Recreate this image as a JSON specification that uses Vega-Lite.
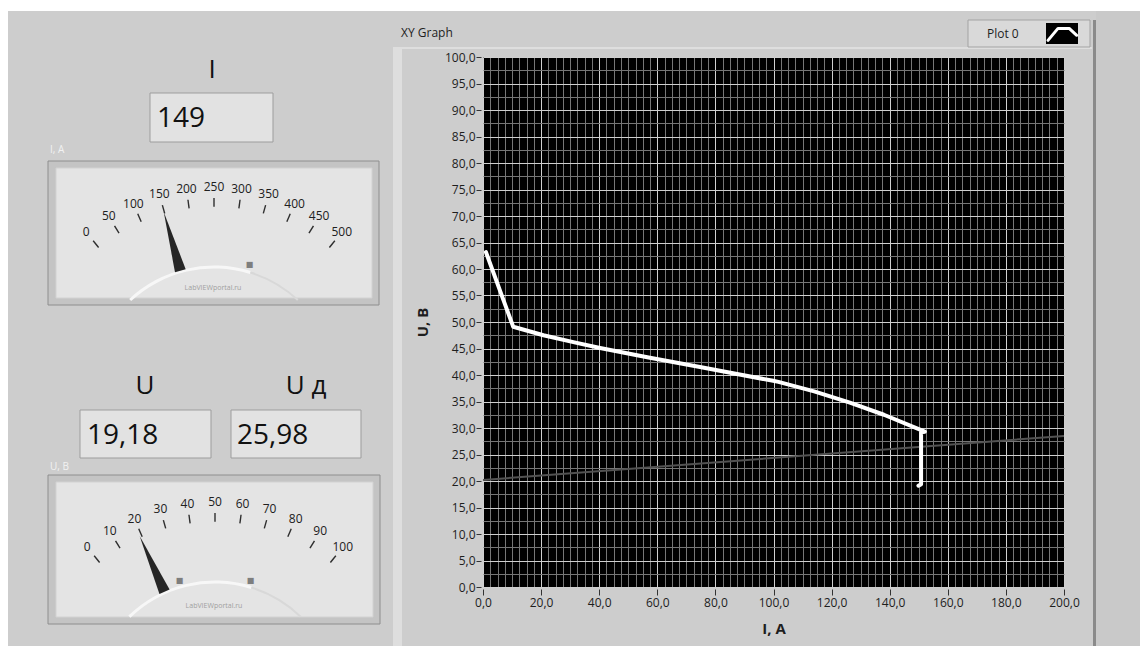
{
  "$schema": "https://vega.github.io/schema/vega-lite/v6.json",
  "padding": 0,
  "autosize": {"type": "pad"},
  "bounds": "flush",
  "spacing": 93,
  "background": "#ffffff",
  "config": {
    "view": {"stroke": null},
    "font": "Open Sans",
    "locale": {"number": {"decimal": ",", "thousands": " ", "grouping": [3], "currency": ["", ""]}}
  },
  "datasets": {
    "curve": [
      {"i": 0, "I": 1.0, "U": 63.2},
      {"i": 1, "I": 10.4, "U": 49.1},
      {"i": 2, "I": 20.8, "U": 47.5},
      {"i": 3, "I": 31.1, "U": 46.2},
      {"i": 4, "I": 40.3, "U": 45.1},
      {"i": 5, "I": 57.0, "U": 43.3},
      {"i": 6, "I": 74.7, "U": 41.5},
      {"i": 7, "I": 99.9, "U": 38.9},
      {"i": 8, "I": 101.7, "U": 38.7},
      {"i": 9, "I": 114.0, "U": 36.9},
      {"i": 10, "I": 126.3, "U": 34.8},
      {"i": 11, "I": 138.0, "U": 32.5},
      {"i": 12, "I": 152.1, "U": 29.3},
      {"i": 13, "I": 150.8, "U": 29.2},
      {"i": 14, "I": 150.8, "U": 19.4},
      {"i": 15, "I": 149.9, "U": 19.1}
    ],
    "load": [
      {"I": 0, "U": 20.2},
      {"I": 200, "U": 28.5}
    ],
    "readings": [
      {"q": "I", "value": 149},
      {"q": "U", "value": 19.18},
      {"q": "Ud", "value": 25.98}
    ],
    "ticksI": [{"v": 0}, {"v": 50}, {"v": 100}, {"v": 150}, {"v": 200}, {"v": 250}, {"v": 300}, {"v": 350}, {"v": 400}, {"v": 450}, {"v": 500}],
    "ticksU": [{"v": 0}, {"v": 10}, {"v": 20}, {"v": 30}, {"v": 40}, {"v": 50}, {"v": 60}, {"v": 70}, {"v": 80}, {"v": 90}, {"v": 100}],
    "markersI": [{"v": 352}],
    "markersU": [{"v": 29.5}, {"v": 70.5}]
  },
  "hconcat": [
    {
      "width": 390,
      "height": 530,
      "view": {"stroke": null},
      "data": {"values": [{}]},
      "resolve": {"scale": {"theta": "independent", "angle": "independent"}},
      "layer": [
        {"mark": {"type": "rect", "fill": "#ffffff"},
         "encoding": {"x": {"datum": 0, "type": "quantitative", "scale": {"domain": [0, 390], "nice": false, "zero": false}, "axis": null}, "x2": {"datum": 1140},
                      "y": {"datum": 0, "type": "quantitative", "scale": {"domain": [57, 587], "nice": false, "zero": false, "reverse": true}, "axis": null}, "y2": {"datum": 646}}},
        {"mark": {"type": "rect", "fill": "#cdcdcd"},
         "encoding": {"x": {"datum": 8, "type": "quantitative", "scale": {"domain": [0, 390], "nice": false, "zero": false}, "axis": null}, "x2": {"datum": 1140},
                      "y": {"datum": 11, "type": "quantitative", "scale": {"domain": [57, 587], "nice": false, "zero": false, "reverse": true}, "axis": null}, "y2": {"datum": 646}}},
        {"mark": {"type": "rect", "fill": "#c9c9c9"},
         "encoding": {"x": {"datum": 1096, "type": "quantitative", "scale": {"domain": [0, 390], "nice": false, "zero": false}, "axis": null}, "x2": {"datum": 1140},
                      "y": {"datum": 11, "type": "quantitative", "scale": {"domain": [57, 587], "nice": false, "zero": false, "reverse": true}, "axis": null}, "y2": {"datum": 646}}},
        {"mark": {"type": "rect", "fill": "#8a8a8a"},
         "encoding": {"x": {"datum": 1093, "type": "quantitative", "scale": {"domain": [0, 390], "nice": false, "zero": false}, "axis": null}, "x2": {"datum": 1096},
                      "y": {"datum": 20, "type": "quantitative", "scale": {"domain": [57, 587], "nice": false, "zero": false, "reverse": true}, "axis": null}, "y2": {"datum": 646}}},
        {"mark": {"type": "rect", "fill": "#dedede"},
         "encoding": {"x": {"datum": 393, "type": "quantitative", "scale": {"domain": [0, 390], "nice": false, "zero": false}, "axis": null}, "x2": {"datum": 402},
                      "y": {"datum": 47, "type": "quantitative", "scale": {"domain": [57, 587], "nice": false, "zero": false, "reverse": true}, "axis": null}, "y2": {"datum": 646}}},
        {"mark": {"type": "rect", "fill": "#dedede"},
         "encoding": {"x": {"datum": 393, "type": "quantitative", "scale": {"domain": [0, 390], "nice": false, "zero": false}, "axis": null}, "x2": {"datum": 1092},
                      "y": {"datum": 47, "type": "quantitative", "scale": {"domain": [57, 587], "nice": false, "zero": false, "reverse": true}, "axis": null}, "y2": {"datum": 49}}},
        {"mark": {"type": "rect", "fill": "#d9d9d9", "stroke": "#a3a3a3", "strokeWidth": 1},
         "encoding": {"x": {"datum": 968, "type": "quantitative", "scale": {"domain": [0, 390], "nice": false, "zero": false}, "axis": null}, "x2": {"datum": 1090},
                      "y": {"datum": 20, "type": "quantitative", "scale": {"domain": [57, 587], "nice": false, "zero": false, "reverse": true}, "axis": null}, "y2": {"datum": 47}}},
        {"mark": {"type": "rect", "fill": "#000000"},
         "encoding": {"x": {"datum": 1046, "type": "quantitative", "scale": {"domain": [0, 390], "nice": false, "zero": false}, "axis": null}, "x2": {"datum": 1078},
                      "y": {"datum": 23, "type": "quantitative", "scale": {"domain": [57, 587], "nice": false, "zero": false, "reverse": true}, "axis": null}, "y2": {"datum": 44}}},
        {"mark": {"type": "point", "shape": "M -0.875 0.4 L -0.25 -0.35 L 0.45 -0.35 L 0.92 0.08", "size": 1024, "filled": false, "stroke": "#ffffff", "strokeWidth": 3, "strokeCap": "round", "strokeJoin": "round", "opacity": 1},
         "encoding": {"x": {"datum": 1062, "type": "quantitative", "scale": {"domain": [0, 390], "nice": false, "zero": false}, "axis": null},
                      "y": {"datum": 34, "type": "quantitative", "scale": {"domain": [57, 587], "nice": false, "zero": false, "reverse": true}, "axis": null}}},
        {"mark": {"type": "text", "text": "Plot 0", "align": "left", "baseline": "middle", "fontSize": 12, "color": "#1e1e1e"},
         "encoding": {"x": {"datum": 987, "type": "quantitative", "scale": {"domain": [0, 390], "nice": false, "zero": false}, "axis": null},
                      "y": {"datum": 33.5, "type": "quantitative", "scale": {"domain": [57, 587], "nice": false, "zero": false, "reverse": true}, "axis": null}}},
        {"mark": {"type": "text", "text": "XY Graph", "align": "left", "baseline": "middle", "fontSize": 12, "color": "#1e1e1e"},
         "encoding": {"x": {"datum": 401, "type": "quantitative", "scale": {"domain": [0, 390], "nice": false, "zero": false}, "axis": null},
                      "y": {"datum": 33, "type": "quantitative", "scale": {"domain": [57, 587], "nice": false, "zero": false, "reverse": true}, "axis": null}}},

        {"mark": {"type": "rect", "fill": "#e2e2e2", "stroke": "#9d9d9d", "strokeWidth": 1},
         "encoding": {"x": {"datum": 150, "type": "quantitative", "scale": {"domain": [0, 390], "nice": false, "zero": false}, "axis": null}, "x2": {"datum": 273},
                      "y": {"datum": 93, "type": "quantitative", "scale": {"domain": [57, 587], "nice": false, "zero": false, "reverse": true}, "axis": null}, "y2": {"datum": 142}}},
        {"mark": {"type": "rect", "fill": "#e2e2e2", "stroke": "#9d9d9d", "strokeWidth": 1},
         "encoding": {"x": {"datum": 80, "type": "quantitative", "scale": {"domain": [0, 390], "nice": false, "zero": false}, "axis": null}, "x2": {"datum": 211},
                      "y": {"datum": 410, "type": "quantitative", "scale": {"domain": [57, 587], "nice": false, "zero": false, "reverse": true}, "axis": null}, "y2": {"datum": 458}}},
        {"mark": {"type": "rect", "fill": "#e2e2e2", "stroke": "#9d9d9d", "strokeWidth": 1},
         "encoding": {"x": {"datum": 231, "type": "quantitative", "scale": {"domain": [0, 390], "nice": false, "zero": false}, "axis": null}, "x2": {"datum": 361},
                      "y": {"datum": 410, "type": "quantitative", "scale": {"domain": [57, 587], "nice": false, "zero": false, "reverse": true}, "axis": null}, "y2": {"datum": 458}}},
        {"mark": {"type": "rect", "fill": "#c4c4c4", "stroke": "#8e8e8e", "strokeWidth": 1},
         "encoding": {"x": {"datum": 48, "type": "quantitative", "scale": {"domain": [0, 390], "nice": false, "zero": false}, "axis": null}, "x2": {"datum": 379},
                      "y": {"datum": 161, "type": "quantitative", "scale": {"domain": [57, 587], "nice": false, "zero": false, "reverse": true}, "axis": null}, "y2": {"datum": 305}}},
        {"mark": {"type": "rect", "fill": "#e4e4e4", "stroke": "#d2d2d2", "strokeWidth": 1},
         "encoding": {"x": {"datum": 56, "type": "quantitative", "scale": {"domain": [0, 390], "nice": false, "zero": false}, "axis": null}, "x2": {"datum": 372},
                      "y": {"datum": 168, "type": "quantitative", "scale": {"domain": [57, 587], "nice": false, "zero": false, "reverse": true}, "axis": null}, "y2": {"datum": 298}}},
        {"mark": {"type": "rect", "fill": "#c4c4c4", "stroke": "#8e8e8e", "strokeWidth": 1},
         "encoding": {"x": {"datum": 48, "type": "quantitative", "scale": {"domain": [0, 390], "nice": false, "zero": false}, "axis": null}, "x2": {"datum": 380},
                      "y": {"datum": 475, "type": "quantitative", "scale": {"domain": [57, 587], "nice": false, "zero": false, "reverse": true}, "axis": null}, "y2": {"datum": 624}}},
        {"mark": {"type": "rect", "fill": "#e4e4e4", "stroke": "#d2d2d2", "strokeWidth": 1},
         "encoding": {"x": {"datum": 56, "type": "quantitative", "scale": {"domain": [0, 390], "nice": false, "zero": false}, "axis": null}, "x2": {"datum": 373},
                      "y": {"datum": 482, "type": "quantitative", "scale": {"domain": [57, 587], "nice": false, "zero": false, "reverse": true}, "axis": null}, "y2": {"datum": 617}}},

        {"mark": {"type": "text", "text": "I", "fontSize": 26, "color": "#111111", "baseline": "middle"},
         "encoding": {"x": {"datum": 212, "type": "quantitative", "scale": {"domain": [0, 390], "nice": false, "zero": false}, "axis": null},
                      "y": {"datum": 70, "type": "quantitative", "scale": {"domain": [57, 587], "nice": false, "zero": false, "reverse": true}, "axis": null}}},
        {"mark": {"type": "text", "text": "U", "fontSize": 26, "color": "#111111", "baseline": "middle"},
         "encoding": {"x": {"datum": 145, "type": "quantitative", "scale": {"domain": [0, 390], "nice": false, "zero": false}, "axis": null},
                      "y": {"datum": 386, "type": "quantitative", "scale": {"domain": [57, 587], "nice": false, "zero": false, "reverse": true}, "axis": null}}},
        {"mark": {"type": "text", "text": "U д", "fontSize": 26, "color": "#111111", "baseline": "middle"},
         "encoding": {"x": {"datum": 306, "type": "quantitative", "scale": {"domain": [0, 390], "nice": false, "zero": false}, "axis": null},
                      "y": {"datum": 386, "type": "quantitative", "scale": {"domain": [57, 587], "nice": false, "zero": false, "reverse": true}, "axis": null}}},
        {"mark": {"type": "text", "text": "I, А", "fontSize": 10, "color": "#f2f2f2", "align": "left", "baseline": "middle"},
         "encoding": {"x": {"datum": 50, "type": "quantitative", "scale": {"domain": [0, 390], "nice": false, "zero": false}, "axis": null},
                      "y": {"datum": 150, "type": "quantitative", "scale": {"domain": [57, 587], "nice": false, "zero": false, "reverse": true}, "axis": null}}},
        {"mark": {"type": "text", "text": "U, В", "fontSize": 10, "color": "#f2f2f2", "align": "left", "baseline": "middle"},
         "encoding": {"x": {"datum": 50, "type": "quantitative", "scale": {"domain": [0, 390], "nice": false, "zero": false}, "axis": null},
                      "y": {"datum": 467, "type": "quantitative", "scale": {"domain": [57, 587], "nice": false, "zero": false, "reverse": true}, "axis": null}}},
        {"mark": {"type": "text", "text": "LabVIEWportal.ru", "fontSize": 7, "color": "#a0a0a0", "baseline": "middle"},
         "encoding": {"x": {"datum": 213, "type": "quantitative", "scale": {"domain": [0, 390], "nice": false, "zero": false}, "axis": null},
                      "y": {"datum": 288, "type": "quantitative", "scale": {"domain": [57, 587], "nice": false, "zero": false, "reverse": true}, "axis": null}}},
        {"mark": {"type": "text", "text": "LabVIEWportal.ru", "fontSize": 7, "color": "#a0a0a0", "baseline": "middle"},
         "encoding": {"x": {"datum": 214, "type": "quantitative", "scale": {"domain": [0, 390], "nice": false, "zero": false}, "axis": null},
                      "y": {"datum": 606, "type": "quantitative", "scale": {"domain": [57, 587], "nice": false, "zero": false, "reverse": true}, "axis": null}}},

        {"data": {"name": "readings"}, "transform": [{"filter": "datum.q === 'I'"}],
         "mark": {"type": "text", "fontSize": 28, "color": "#111111", "align": "left", "baseline": "middle"},
         "encoding": {"x": {"datum": 157, "type": "quantitative", "scale": {"domain": [0, 390], "nice": false, "zero": false}, "axis": null},
                      "y": {"datum": 119, "type": "quantitative", "scale": {"domain": [57, 587], "nice": false, "zero": false, "reverse": true}, "axis": null},
                      "text": {"field": "value", "type": "quantitative", "format": "d"}}},
        {"data": {"name": "readings"}, "transform": [{"filter": "datum.q === 'U'"}],
         "mark": {"type": "text", "fontSize": 28, "color": "#111111", "align": "left", "baseline": "middle"},
         "encoding": {"x": {"datum": 87, "type": "quantitative", "scale": {"domain": [0, 390], "nice": false, "zero": false}, "axis": null},
                      "y": {"datum": 436, "type": "quantitative", "scale": {"domain": [57, 587], "nice": false, "zero": false, "reverse": true}, "axis": null},
                      "text": {"field": "value", "type": "quantitative", "format": ".2f"}}},
        {"data": {"name": "readings"}, "transform": [{"filter": "datum.q === 'Ud'"}],
         "mark": {"type": "text", "fontSize": 28, "color": "#111111", "align": "left", "baseline": "middle"},
         "encoding": {"x": {"datum": 237, "type": "quantitative", "scale": {"domain": [0, 390], "nice": false, "zero": false}, "axis": null},
                      "y": {"datum": 436, "type": "quantitative", "scale": {"domain": [57, 587], "nice": false, "zero": false, "reverse": true}, "axis": null},
                      "text": {"field": "value", "type": "quantitative", "format": ".2f"}}},

        {"mark": {"type": "arc", "theta": -0.75, "theta2": 0.3, "radius": 124.5, "radius2": 121.5, "fill": "#f7f7f7"},
         "encoding": {"x": {"datum": 214, "type": "quantitative", "scale": {"domain": [0, 390], "nice": false, "zero": false}, "axis": null},
                      "y": {"datum": 390, "type": "quantitative", "scale": {"domain": [57, 587], "nice": false, "zero": false, "reverse": true}, "axis": null}}},
        {"mark": {"type": "arc", "theta": 0.3, "theta2": 0.75, "radius": 124, "radius2": 122, "fill": "#d8d8d8"},
         "encoding": {"x": {"datum": 214, "type": "quantitative", "scale": {"domain": [0, 390], "nice": false, "zero": false}, "axis": null},
                      "y": {"datum": 390, "type": "quantitative", "scale": {"domain": [57, 587], "nice": false, "zero": false, "reverse": true}, "axis": null}}},
        {"mark": {"type": "arc", "theta": -0.77, "theta2": 0.3, "radius": 124.5, "radius2": 121.5, "fill": "#f7f7f7"},
         "encoding": {"x": {"datum": 215, "type": "quantitative", "scale": {"domain": [0, 390], "nice": false, "zero": false}, "axis": null},
                      "y": {"datum": 705, "type": "quantitative", "scale": {"domain": [57, 587], "nice": false, "zero": false, "reverse": true}, "axis": null}}},
        {"mark": {"type": "arc", "theta": 0.3, "theta2": 0.77, "radius": 124, "radius2": 122, "fill": "#d8d8d8"},
         "encoding": {"x": {"datum": 215, "type": "quantitative", "scale": {"domain": [0, 390], "nice": false, "zero": false}, "axis": null},
                      "y": {"datum": 705, "type": "quantitative", "scale": {"domain": [57, 587], "nice": false, "zero": false, "reverse": true}, "axis": null}}},

        {"data": {"name": "ticksI"},
         "mark": {"type": "point", "shape": "M 0 -1 L 0 -0.955", "size": 147456, "filled": false, "stroke": "#2e2e2e", "strokeWidth": 1.4, "opacity": 1},
         "encoding": {"x": {"datum": 214, "type": "quantitative", "scale": {"domain": [0, 390], "nice": false, "zero": false}, "axis": null},
                      "y": {"datum": 390, "type": "quantitative", "scale": {"domain": [57, 587], "nice": false, "zero": false, "reverse": true}, "axis": null},
                      "angle": {"field": "v", "type": "quantitative", "scale": {"domain": [0, 500], "range": [-39, 39]}, "legend": null}}},
        {"data": {"name": "ticksI"},
         "mark": {"type": "text", "fontSize": 12, "color": "#202020", "baseline": "middle"},
         "encoding": {"x": {"datum": 214, "type": "quantitative", "scale": {"domain": [0, 390], "nice": false, "zero": false}, "axis": null},
                      "y": {"datum": 390, "type": "quantitative", "scale": {"domain": [57, 587], "nice": false, "zero": false, "reverse": true}, "axis": null},
                      "theta": {"field": "v", "type": "quantitative", "stack": null, "scale": {"domain": [0, 500], "range": [-0.6807, 0.6807]}},
                      "radius": {"value": 203},
                      "text": {"field": "v", "type": "quantitative", "format": "d"}}},
        {"data": {"name": "markersI"},
         "mark": {"type": "text", "text": "■", "font": "DejaVu Sans", "fontSize": 8, "color": "#7e7e7e", "baseline": "middle"},
         "encoding": {"x": {"datum": 214, "type": "quantitative", "scale": {"domain": [0, 390], "nice": false, "zero": false}, "axis": null},
                      "y": {"datum": 390, "type": "quantitative", "scale": {"domain": [57, 587], "nice": false, "zero": false, "reverse": true}, "axis": null},
                      "theta": {"field": "v", "type": "quantitative", "stack": null, "scale": {"domain": [0, 500], "range": [-0.6807, 0.6807]}},
                      "radius": {"value": 130}}},
        {"data": {"name": "readings"}, "transform": [{"filter": "datum.q === 'I'"}],
         "mark": {"type": "point", "shape": "M -0.03 -0.67 L 0 -1 L 0.03 -0.67 Z", "size": 136900, "filled": true, "color": "#262626", "opacity": 1},
         "encoding": {"x": {"datum": 214, "type": "quantitative", "scale": {"domain": [0, 390], "nice": false, "zero": false}, "axis": null},
                      "y": {"datum": 390, "type": "quantitative", "scale": {"domain": [57, 587], "nice": false, "zero": false, "reverse": true}, "axis": null},
                      "angle": {"field": "value", "type": "quantitative", "scale": {"domain": [0, 500], "range": [-39, 39]}, "legend": null}}},

        {"data": {"name": "ticksU"},
         "mark": {"type": "point", "shape": "M 0 -1 L 0 -0.955", "size": 147456, "filled": false, "stroke": "#2e2e2e", "strokeWidth": 1.4, "opacity": 1},
         "encoding": {"x": {"datum": 215, "type": "quantitative", "scale": {"domain": [0, 390], "nice": false, "zero": false}, "axis": null},
                      "y": {"datum": 705, "type": "quantitative", "scale": {"domain": [57, 587], "nice": false, "zero": false, "reverse": true}, "axis": null},
                      "angle": {"field": "v", "type": "quantitative", "scale": {"domain": [0, 100], "range": [-39, 39]}, "legend": null}}},
        {"data": {"name": "ticksU"},
         "mark": {"type": "text", "fontSize": 12, "color": "#202020", "baseline": "middle"},
         "encoding": {"x": {"datum": 215, "type": "quantitative", "scale": {"domain": [0, 390], "nice": false, "zero": false}, "axis": null},
                      "y": {"datum": 705, "type": "quantitative", "scale": {"domain": [57, 587], "nice": false, "zero": false, "reverse": true}, "axis": null},
                      "theta": {"field": "v", "type": "quantitative", "stack": null, "scale": {"domain": [0, 100], "range": [-0.6807, 0.6807]}},
                      "radius": {"value": 203},
                      "text": {"field": "v", "type": "quantitative", "format": "d"}}},
        {"data": {"name": "markersU"},
         "mark": {"type": "text", "text": "■", "font": "DejaVu Sans", "fontSize": 8, "color": "#7e7e7e", "baseline": "middle"},
         "encoding": {"x": {"datum": 215, "type": "quantitative", "scale": {"domain": [0, 390], "nice": false, "zero": false}, "axis": null},
                      "y": {"datum": 705, "type": "quantitative", "scale": {"domain": [57, 587], "nice": false, "zero": false, "reverse": true}, "axis": null},
                      "theta": {"field": "v", "type": "quantitative", "stack": null, "scale": {"domain": [0, 100], "range": [-0.6807, 0.6807]}},
                      "radius": {"value": 129}}},
        {"data": {"name": "readings"}, "transform": [{"filter": "datum.q === 'U'"}],
         "mark": {"type": "point", "shape": "M -0.03 -0.67 L 0 -1 L 0.03 -0.67 Z", "size": 136900, "filled": true, "color": "#262626", "opacity": 1},
         "encoding": {"x": {"datum": 215, "type": "quantitative", "scale": {"domain": [0, 390], "nice": false, "zero": false}, "axis": null},
                      "y": {"datum": 705, "type": "quantitative", "scale": {"domain": [57, 587], "nice": false, "zero": false, "reverse": true}, "axis": null},
                      "angle": {"field": "value", "type": "quantitative", "scale": {"domain": [0, 100], "range": [-39, 39]}, "legend": null}}}
      ]
    },
    {
      "width": 581,
      "height": 530,
      "view": {"fill": "#000000", "stroke": null},
      "resolve": {"axis": {"x": "independent", "y": "independent"}},
      "layer": [
        {
          "data": {"name": "load"},
          "mark": {"type": "line", "color": "#525252", "strokeWidth": 2},
          "encoding": {
            "x": {"field": "I", "type": "quantitative", "scale": {"domain": [0, 200], "nice": false, "zero": false},
                  "axis": {"orient": "bottom", "values": [0, 20, 40, 60, 80, 100, 120, 140, 160, 180, 200], "format": ".1f", "labelFlush": false, "labelOverlap": false, "grid": true, "gridColor": "#d0d0d0", "gridOpacity": 1, "gridWidth": 1, "domain": false, "offset": 2, "tickSize": 6, "tickColor": "#333333", "labelPadding": 2, "labelFont": "Open Sans", "labelFontSize": 12, "labelColor": "#1e1e1e", "title": "I, А", "titleFont": "Open Sans", "titleFontSize": 15, "titleFontWeight": "bold", "titleColor": "#1e1e1e", "titlePadding": 13}},
            "y": {"field": "U", "type": "quantitative", "scale": {"domain": [0, 100], "nice": false, "zero": false},
                  "axis": {"orient": "left", "values": [0, 5, 10, 15, 20, 25, 30, 35, 40, 45, 50, 55, 60, 65, 70, 75, 80, 85, 90, 95, 100], "format": ".1f", "labelFlush": false, "labelOverlap": false, "grid": true, "gridColor": "#d0d0d0", "gridOpacity": 1, "gridWidth": 1, "domain": false, "offset": 2, "tickSize": 5, "tickColor": "#333333", "labelPadding": 1, "labelFont": "Open Sans", "labelFontSize": 12, "labelColor": "#1e1e1e", "title": "U, В", "titleFont": "Open Sans", "titleFontSize": 15, "titleFontWeight": "bold", "titleColor": "#1e1e1e", "titlePadding": 14}}
          }
        },
        {
          "data": {"name": "curve"},
          "mark": {"type": "line", "color": "#ffffff", "strokeWidth": 4, "strokeCap": "round", "strokeJoin": "round"},
          "encoding": {
            "x": {"field": "I", "type": "quantitative",
                  "axis": {"orient": "top", "values": [2.5, 5, 7.5, 10, 12.5, 15, 17.5, 22.5, 25, 27.5, 30, 32.5, 35, 37.5, 42.5, 45, 47.5, 50, 52.5, 55, 57.5, 62.5, 65, 67.5, 70, 72.5, 75, 77.5, 82.5, 85, 87.5, 90, 92.5, 95, 97.5, 102.5, 105, 107.5, 110, 112.5, 115, 117.5, 122.5, 125, 127.5, 130, 132.5, 135, 137.5, 142.5, 145, 147.5, 150, 152.5, 155, 157.5, 162.5, 165, 167.5, 170, 172.5, 175, 177.5, 182.5, 185, 187.5, 190, 192.5, 195, 197.5], "grid": true, "gridColor": "#767676", "gridOpacity": 1, "gridWidth": 1, "labels": false, "ticks": false, "domain": false, "title": null}},
            "y": {"field": "U", "type": "quantitative",
                  "axis": {"orient": "right", "values": [2.5, 7.5, 12.5, 17.5, 22.5, 27.5, 32.5, 37.5, 42.5, 47.5, 52.5, 57.5, 62.5, 67.5, 72.5, 77.5, 82.5, 87.5, 92.5, 97.5], "grid": true, "gridColor": "#767676", "gridOpacity": 1, "gridWidth": 1, "labels": false, "ticks": false, "domain": false, "title": null}},
            "order": {"field": "i", "type": "quantitative"}
          }
        }
      ]
    }
  ]
}
